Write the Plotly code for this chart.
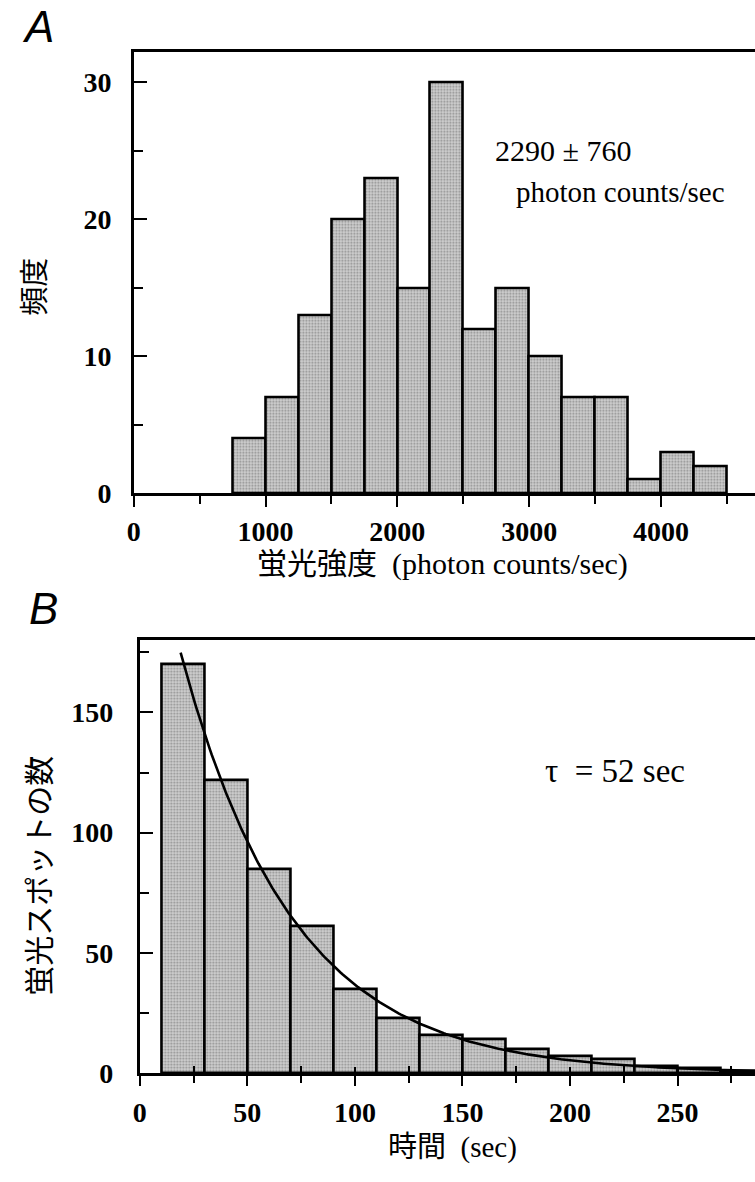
import numpy as np
import plotly.graph_objects as go

# Panel A: fluorescence intensity histogram (bin width 250 photon counts/sec)
intensity_bin_left = [750, 1000, 1250, 1500, 1750, 2000, 2250, 2500,
                      2750, 3000, 3250, 3500, 3750, 4000, 4250]
intensity_counts = [4, 7, 13, 20, 23, 15, 30, 12, 15, 10, 7, 7, 1, 3, 2]
intensity_bin_width = 250

# Panel B: spot lifetime histogram (bin width 20 sec)
time_bin_left = [10, 30, 50, 70, 90, 110, 130, 150, 170, 190, 210, 230, 250, 270]
spot_counts = [170, 122, 85, 61, 35, 23, 16, 14, 10, 7, 6, 3, 2, 1]
time_bin_width = 20

# Single-exponential fit, N(t) = A * exp(-t / tau)
fit_tau = 52
fit_amplitude = 252
fit_t_start = 19
fit_t_end = 290

W, H = 755, 1182
SERIF = "Liberation Serif, Times New Roman, serif"
MIXED = "Liberation Serif, Noto Sans CJK JP, serif"
SANS = "Liberation Sans, Arial, sans-serif"

fig = go.Figure()

bar_marker = dict(
    color="#cccccc",
    line=dict(color="black", width=2.6),
    pattern=dict(shape=".", fgcolor="#4a4a4a", bgcolor="#d2d2d2", size=3, solidity=0.4),
)

fig.add_trace(go.Bar(
    x=intensity_bin_left, y=intensity_counts,
    width=[intensity_bin_width] * len(intensity_counts), offset=0,
    marker=bar_marker, xaxis="x", yaxis="y", showlegend=False,
))

fig.add_trace(go.Bar(
    x=time_bin_left, y=spot_counts,
    width=[time_bin_width] * len(spot_counts), offset=0,
    marker=bar_marker, xaxis="x2", yaxis="y2", showlegend=False,
))

fit_t = np.linspace(fit_t_start, fit_t_end, 300)
fit_n = fit_amplitude * np.exp(-fit_t / fit_tau)
fig.add_trace(go.Scatter(
    x=fit_t, y=fit_n, mode="lines", line=dict(color="black", width=2.6),
    xaxis="x2", yaxis="y2", showlegend=False, cliponaxis=True,
))


def px_x(p):
    return p / W


def px_y(p):
    return 1 - p / H


tick_font = dict(family=SERIF, size=28, color="black", weight="bold")

fig.update_layout(
    width=W, height=H,
    margin=dict(l=0, r=0, t=0, b=0),
    paper_bgcolor="white", plot_bgcolor="white",
    bargap=0,
    xaxis=dict(
        domain=[px_x(128), 1], range=[0, 4714], anchor="y",
        showline=True, linecolor="black", linewidth=2.6, mirror=True,
        showgrid=False, zeroline=False,
        tickvals=[0, 1000, 2000, 3000, 4000], ticks="outside", ticklen=11,
        tickwidth=2, tickcolor="black", tickfont=tick_font,
        minor=dict(tickvals=[500, 1500, 2500, 3500, 4500], ticks="outside",
                   ticklen=8, tickwidth=2, tickcolor="black"),
    ),
    yaxis=dict(
        domain=[px_y(500), px_y(53)], range=[0, 32.2], anchor="x",
        showline=True, linecolor="black", linewidth=2.6,
        showgrid=False, zeroline=False,
        tickvals=[0, 10, 20, 30], ticks="inside", ticklen=13,
        tickwidth=2, tickcolor="black", tickfont=tick_font,
        ticklabelstandoff=14,
        minor=dict(tickvals=[5, 15, 25], ticks="inside", ticklen=9,
                   tickwidth=2, tickcolor="black"),
    ),
    xaxis2=dict(
        domain=[px_x(134), 1], range=[0, 286], anchor="y2",
        showline=True, linecolor="black", linewidth=2.6, mirror=True,
        showgrid=False, zeroline=False,
        tickvals=[0, 50, 100, 150, 200, 250], ticks="outside", ticklen=10,
        tickwidth=2, tickcolor="black", tickfont=tick_font,
        ticklabelstandoff=2,
        minor=dict(tickvals=[25, 75, 125, 175, 225, 275], ticks="outside",
                   ticklen=7, tickwidth=2, tickcolor="black"),
    ),
    # companion axis giving the lower time axis its crossing tick marks
    xaxis3=dict(
        domain=[px_x(134), 1], range=[0, 286], anchor="y2", overlaying="x2",
        showline=False, showgrid=False, zeroline=False, showticklabels=False,
        tickvals=[50, 100, 150, 200, 250], ticks="inside", ticklen=6,
        tickwidth=2, tickcolor="black",
        minor=dict(tickvals=[25, 75, 125, 175, 225, 275], ticks="inside",
                   ticklen=7, tickwidth=2, tickcolor="black"),
    ),
    yaxis2=dict(
        domain=[px_y(1088), px_y(649)], range=[0, 180], anchor="x2",
        showline=True, linecolor="black", linewidth=2.6,
        showgrid=False, zeroline=False,
        tickvals=[0, 50, 100, 150], ticks="inside", ticklen=13,
        tickwidth=2, tickcolor="black", tickfont=tick_font,
        ticklabelstandoff=18,
        minor=dict(tickvals=[25, 75, 125, 175], ticks="inside", ticklen=9,
                   tickwidth=2, tickcolor="black"),
    ),
)

# keep the companion axis present in the figure
fig.add_trace(go.Scatter(x=[None], y=[None], xaxis="x3", yaxis="y2",
                         showlegend=False, hoverinfo="skip"))

annotations = [
    # panel letters
    dict(text="A", x=px_x(31), y=px_y(27), font=dict(family=SANS, size=44, style="italic")),
    dict(text="B", x=px_x(37), y=px_y(617), font=dict(family=SANS, size=44, style="italic")),
    # axis titles
    dict(text="蛍光強度\u00a0\u00a0(photon counts/sec)", x=px_x(440), y=px_y(572),
         font=dict(family=MIXED, size=30)),
    dict(text="頻度", x=px_x(28), y=px_y(291), textangle=-90,
         font=dict(family=MIXED, size=29)),
    dict(text="時間\u00a0\u00a0(sec)", x=px_x(450), y=px_y(1163),
         font=dict(family=MIXED, size=29)),
    dict(text="蛍光スポットの数", x=px_x(33), y=px_y(888), textangle=-90,
         font=dict(family=MIXED, size=30)),
    # in-panel labels
    dict(text="2290 ± 760", x=px_x(561), y=px_y(153), font=dict(family=SERIF, size=30)),
    dict(text="photon counts/sec", x=px_x(619), y=px_y(195), font=dict(family=SERIF, size=29)),
    dict(text="τ\u00a0\u00a0= 52 sec", x=px_x(614), y=px_y(782), font=dict(family=SERIF, size=33)),
]
for a in annotations:
    a.update(xref="paper", yref="paper", showarrow=False, xanchor="center", yanchor="middle")
    a["font"].setdefault("color", "black")
fig.update_layout(annotations=annotations)

fig.write_html("out.html", config={"displayModeBar": False})
